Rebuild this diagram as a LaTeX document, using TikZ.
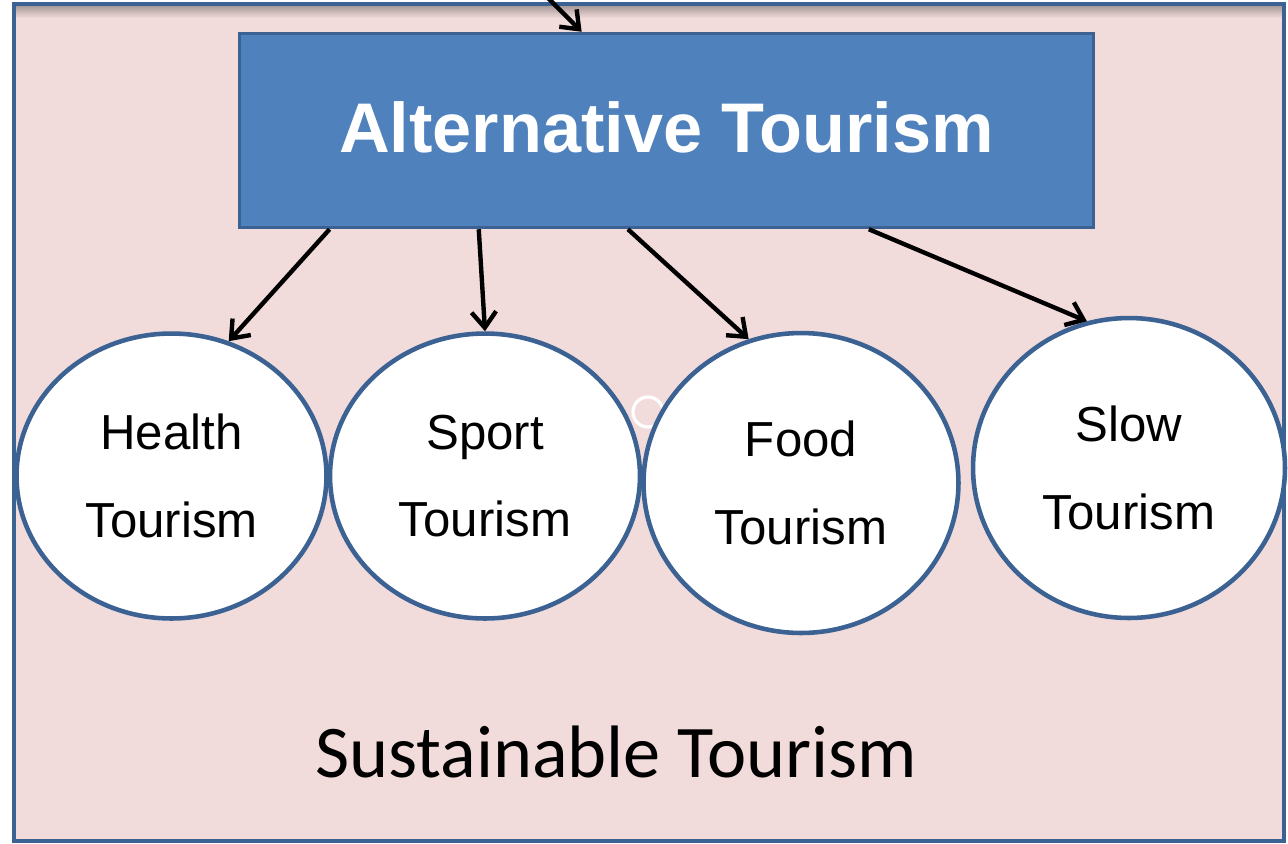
\documentclass[tikz,border=0pt]{standalone}
\usepackage{fontspec}
\setmainfont{Liberation Sans}
\newfontfamily\calibrifont{Carlito}
\usetikzlibrary{shapes.geometric,arrows.meta,calc}
\definecolor{bgpink}{HTML}{F2DCDB}
\definecolor{boxblue}{HTML}{4F81BD}
\definecolor{lineblue}{HTML}{3B6292}
\tikzset{
  bubble/.style = {ellipse, draw=lineblue, fill=white, line width=2.6pt,
                   inner sep=0pt, align=center,
                   font=\fontsize{28}{50}\selectfont},
  altbox/.style = {rectangle, draw=lineblue, fill=boxblue, line width=2pt,
                   minimum width=17.08cm, minimum height=3.88cm, inner sep=0pt,
                   text depth=0.12cm,
                   text=white, font=\fontsize{40}{47}\selectfont\bfseries},
  arrow/.style  = {-{Straight Barb[length=9pt,width=14pt]}, line width=2.5pt, black}
}

\begin{document}
\begin{tikzpicture}[x=0.02cm, y=-0.02cm]
	\useasboundingbox (0,0) rectangle (1288,843);

	% Frame
	\fill[bgpink] (14,4) rectangle (1284,841);
	\shade[top color=black!35!bgpink, bottom color=bgpink] (14,4) rectangle (1284,18);
	\draw[lineblue, line width=2.6pt] (14,4) rectangle (1284,841);

	% Stray mark
	\draw[white, line width=1.8pt] (648,412) circle (15);

	% Main box
	\node[altbox] (alt) at (666.5,130.5) {Alternative Tourism};

	% Bubbles
	\node[bubble, minimum width=6.2cm,  minimum height=5.7cm] (health) at (171.5,476) {Health\\Tourism};
	\node[bubble, minimum width=6.2cm,  minimum height=5.7cm] (sport)  at (485,476)   {Sport\\Tourism};
	\node[bubble, minimum width=6.3cm,  minimum height=6.0cm] (food)   at (801,483)   {Food\\Tourism};
	\node[bubble, minimum width=6.24cm, minimum height=6.0cm] (slow)   at (1129,468)  {Slow\\Tourism};

	% Label
	\node[font=\calibrifont\fontsize{42.3}{50}\selectfont] (sust) at (616,752) {Sustainable Tourism};

	% Arrows
	\coordinate (src) at (546,-4);
	\draw[arrow] (src) -- ($(alt.north west)!0.401!(alt.north east)$);
	\draw[arrow] ($(alt.south west)!0.107!(alt.south east)$) -- (health.67);
	\draw[arrow] ($(alt.south west)!0.281!(alt.south east)$) -- (sport.90);
	\draw[arrow] ($(alt.south west)!0.455!(alt.south east)$) -- (food.110);
	\draw[arrow] ($(alt.south west)!0.736!(alt.south east)$) -- (slow.106);

\end{tikzpicture}
\end{document}
